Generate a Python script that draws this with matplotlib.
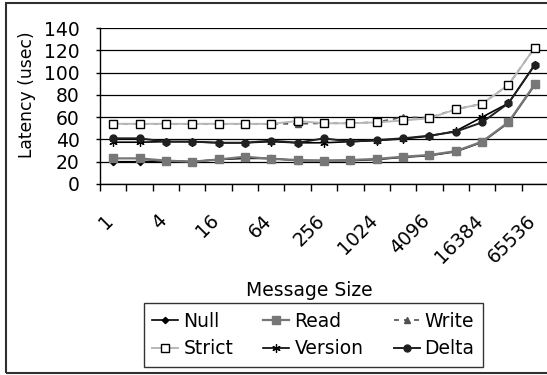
import matplotlib
matplotlib.use("Agg")
import matplotlib.pyplot as plt
from matplotlib.transforms import ScaledTranslation
from matplotlib.patches import Rectangle

plt.rcParams['font.family'] = ['DejaVu Sans']

# Message sizes 2^0 .. 2^16
sizes = [str(2 ** i) for i in range(17)]
tick_labels = ["1", "4", "16", "64", "256", "1024", "4096", "16384", "65536"]

null_lat = [20, 20, 21, 20, 22, 23, 23, 21, 21, 21, 22, 24, 25.5, 29, 37.5, 55, 89]
read_lat = [23, 23, 21, 20, 22, 24.5, 22.5, 21.5, 21, 21.5, 22.5, 24.5, 26, 29.5, 38, 55.5, 89.5]
write_lat = [54, 54, 54, 54, 54, 54, 54, 54, 54.5, 54.5, 55.5, 60, 59.5, 67, 72, 89, 122.5]
strict_lat = [54, 54, 54, 54, 54, 54, 54, 56.5, 54.5, 54.5, 55.3, 57, 59, 67, 72, 89, 122.5]
version_lat = [37.5, 37.5, 38, 38, 37, 37, 38, 37, 37, 38, 39, 40.5, 43, 47.5, 60, 72.5, 107]
delta_lat = [41, 41, 38, 38, 37, 37, 39, 37, 41, 38, 39.5, 41, 43.4, 47, 55.3, 72.5, 107]

W, H = 547, 375
fig = plt.figure(figsize=(W / 100, H / 100), dpi=100)
ax = fig.add_axes([100 / W, 1 - 184 / H, 448 / W, 156 / H])

x = list(range(len(sizes)))
lw = 1.2
h_null, = ax.plot(x, null_lat, color='black', lw=lw, marker='D', ms=3.2, label='Null', zorder=3)
h_read, = ax.plot(x, read_lat, color='#777777', lw=1.6, marker='s', ms=5.5, label='Read', zorder=3)
h_write, = ax.plot(x, write_lat, color='#505050', lw=lw, ls=(0, (3, 3)), marker='^', ms=4,
                   label='Write', zorder=3)
h_strict, = ax.plot(x, strict_lat, color='#b8b8b8', lw=1.4, marker='s', ms=5.5, mfc='white',
                    mec='black', mew=1.0, label='Strict', zorder=3)
h_version, = ax.plot(x, version_lat, color='black', lw=lw, marker=(6, 2, 0), ms=6, mew=0.9,
                     label='Version', zorder=3)
h_delta, = ax.plot(x, delta_lat, color='#202020', lw=1.4, marker='o', ms=5, label='Delta', zorder=3)

ax.set_xlim(-0.5, len(sizes) - 0.5)
ax.set_ylim(0, 140)
ax.set_yticks(range(0, 141, 20))
ax.yaxis.grid(True, color='black', lw=0.9)
ax.set_axisbelow(True)

for s in ['top', 'right']:
    ax.spines[s].set_visible(False)
for s in ['left', 'bottom']:
    ax.spines[s].set_color('black')
    ax.spines[s].set_linewidth(1.0)

ax.tick_params(axis='y', direction='out', length=3, width=1.0, pad=11.5, labelsize=13.5)

# category boundary ticks on the x axis, labels at every other category
ax.set_xticks([i - 0.5 for i in range(len(sizes) + 1)], minor=True)
ax.tick_params(axis='x', which='minor', direction='out', length=5, width=1.0)
ax.set_xticks(x[::2])
ax.set_xticklabels(tick_labels, rotation=45, ha='right', va='center',
                   rotation_mode='anchor', fontsize=13.5)
ax.tick_params(axis='x', which='major', length=0, pad=24.3)
shift = ScaledTranslation(-1.6 / 72, 0, fig.dpi_scale_trans)
for lab in ax.get_xticklabels():
    lab.set_transform(lab.get_transform() + shift)

ax.set_ylabel('Latency (usec)', fontsize=12.3)
ax.yaxis.set_label_coords(-0.142, 0.575)
ax.set_xlabel('Message Size', fontsize=13.5)
ax.xaxis.set_label_coords((309 - 100) / 448, (184 - 281) / 156)

handles = [h_null, h_strict, h_read, h_version, h_write, h_delta]
leg = fig.legend(handles, [h.get_label() for h in handles], loc='center',
                 bbox_to_anchor=(313.5 / W, 1 - 335 / H), ncol=3,
                 fontsize=13.5, frameon=True, fancybox=False, handlelength=1.39,
                 handletextpad=0.27, columnspacing=1.6, borderpad=0.45,
                 labelspacing=0.44, borderaxespad=0)
leg.get_frame().set_edgecolor('black')
leg.get_frame().set_linewidth(1.0)

# chart border
fig.patches.append(Rectangle((6 / W, 2 / H), 1.0, 1 - 5 / H, transform=fig.transFigure,
                             fill=False, edgecolor='#303030', lw=1.5))

fig.savefig('out.png', dpi=100)
